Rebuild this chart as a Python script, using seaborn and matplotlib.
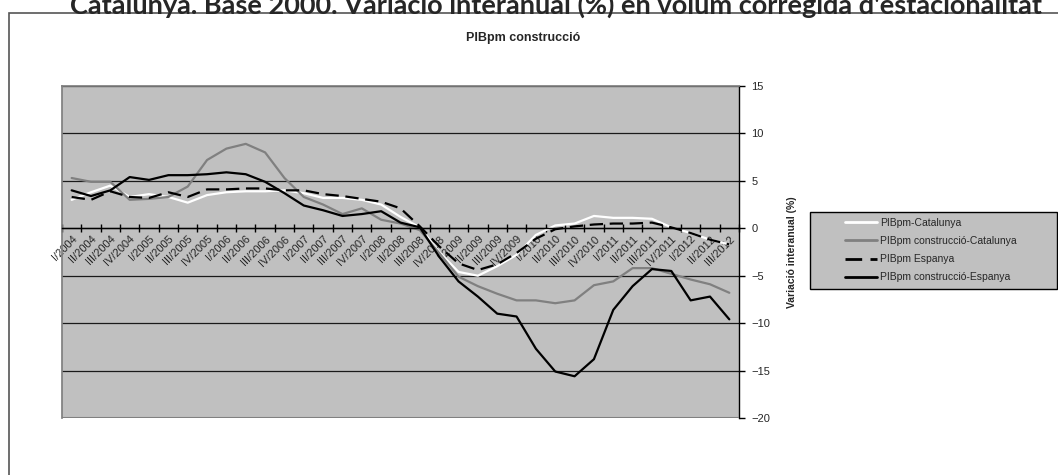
import numpy as np
import pandas as pd
import matplotlib
matplotlib.use("Agg")
import matplotlib.pyplot as plt
import seaborn as sns
from matplotlib.patches import Rectangle

# dades
quarters = []
for year in range(2004, 2013):
    for q in ["I", "II", "III", "IV"]:
        quarters.append(q + "/" + str(year))
quarters = quarters[:35]

pib_cat = [3.0, 3.8, 4.5, 3.3, 3.6, 3.3, 2.7, 3.5, 3.8, 3.9, 3.9, 4.0, 3.7, 3.2, 3.2, 3.0, 2.5, 1.2,
           0.1, -2.5, -4.6, -5.0, -4.0, -2.8, -0.7, 0.3, 0.5, 1.3, 1.1, 1.1, 1.0, 0.1, -0.5, -1.2, -1.7]
constr_cat = [5.3, 4.9, 4.9, 3.0, 3.1, 3.3, 4.4, 7.2, 8.4, 8.9, 8.0, 5.3, 3.3, 2.5, 1.5, 2.1, 0.9, 0.5,
              -0.2, -2.6, -5.1, -6.1, -6.9, -7.6, -7.6, -7.9, -7.6, -6.0, -5.6, -4.2, -4.2, -4.8, -5.4, -5.9, -6.8]
pib_esp = [3.3, 3.0, 3.9, 3.3, 3.2, 3.8, 3.3, 4.1, 4.1, 4.2, 4.2, 4.0, 4.0, 3.6, 3.4, 3.1, 2.8, 2.1,
           0.2, -1.9, -3.7, -4.4, -3.8, -2.6, -1.1, -0.1, 0.2, 0.4, 0.5, 0.5, 0.6, 0.1, -0.5, -1.2, -1.7]
constr_esp = [4.0, 3.4, 4.0, 5.4, 5.1, 5.6, 5.6, 5.7, 5.9, 5.7, 4.9, 3.7, 2.4, 1.9, 1.3, 1.5, 1.8, 0.6,
              0.1, -3.0, -5.6, -7.2, -9.0, -9.3, -12.7, -15.1, -15.6, -13.8, -8.6, -6.1, -4.3, -4.5, -7.6, -7.2, -9.6]

names = ["PIBpm-Catalunya", "PIBpm construcció-Catalunya", "PIBpm Espanya", "PIBpm construcció-Espanya"]
series = [pib_cat, constr_cat, pib_esp, constr_esp]
colors = ["white", "#808080", "black", "black"]
styles = ["-", "-", (0, (6, 3)), "-"]

sns.set_theme(style="white")
plt.rcParams["font.family"] = ["Liberation Sans", "DejaVu Sans"]

fig = plt.figure(figsize=(10.58, 4.75), dpi=100)
ax = fig.add_axes([62 / 1058, 1 - 418 / 475, (739 - 62) / 1058, (418 - 86) / 475])
ax.set_facecolor("#c0c0c0")

x = np.arange(len(quarters))
for name, vals, c, ls in zip(names, series, colors, styles):
    sns.lineplot(x=x, y=vals, ax=ax, color=c, linewidth=1.6, linestyle=ls, label=name)

ax.set_ylim(-20, 15)
ax.set_xlim(-0.5, len(quarters) - 0.5)
ax.set_yticks(np.arange(-20, 16, 5))
for v in np.arange(-15, 16, 5):
    ax.axhline(v, color="#1a1a1a", linewidth=0.9, zorder=0.5)

ax.yaxis.tick_right()
ax.yaxis.set_label_position("right")
ax.tick_params(axis="y", which="major", direction="out", length=4, width=1, color="black",
               labelsize=8, pad=5, right=True, left=False)
ax.set_ylabel("Variació interanual (%)", fontsize=7.5, fontweight="bold", labelpad=12)

ax.spines["bottom"].set_position(("data", 0))
ax.spines["bottom"].set_color("black")
ax.spines["bottom"].set_linewidth(1)
ax.spines["right"].set_color("black")
ax.spines["right"].set_linewidth(1)
ax.spines["left"].set_color("#808080")
ax.spines["top"].set_color("#808080")

ax.set_xticks(np.arange(-0.5, len(quarters), 1))
ax.set_xticklabels([])
ax.tick_params(axis="x", which="major", direction="inout", length=6, width=1, color="black", bottom=True)
ax.set_xticks(x, minor=True)
ax.set_xticklabels(quarters, minor=True, rotation=45, ha="right", rotation_mode="anchor", fontsize=8)
ax.tick_params(axis="x", which="minor", length=0, pad=4)

# línia inferior de l'àrea del gràfic
ax.axhline(-20, color="#808080", linewidth=1.5, zorder=3)

# llegenda: marc a part, darrere dels eixos
fig.patches.append(Rectangle((810 / 1058, 1 - 289 / 475), 247 / 1058, 77 / 475, transform=fig.transFigure,
                             facecolor="#c0c0c0", edgecolor="black", linewidth=1, zorder=-1))
leg = ax.legend(loc="upper left", bbox_to_anchor=(845 / 1058, 1 - 218 / 475), bbox_transform=fig.transFigure,
                fontsize=7.5, frameon=False, handlelength=3.1, borderpad=0, labelspacing=0.78,
                handletextpad=0.25, borderaxespad=0)
for h in leg.get_lines():
    h.set_linewidth(2)

fig.patches.append(Rectangle((9 / 1058, -0.1), 1.2, 1.1 - 13 / 475, transform=fig.transFigure,
                             fill=False, edgecolor="#555555", linewidth=1.2, zorder=-1))

fig.text(523 / 1058, 1 - 38 / 475, "PIBpm construcció", ha="center", va="center", fontsize=9, fontweight="bold")
fig.text(556 / 1058, 1 - 5 / 475, "Catalunya. Base 2000. Variació interanual (%) en volum corregida d'estacionalitat",
         ha="center", va="center", fontsize=19.5, fontweight="bold", family=["Lato", "DejaVu Sans"])

fig.savefig("out.png", dpi=100)
